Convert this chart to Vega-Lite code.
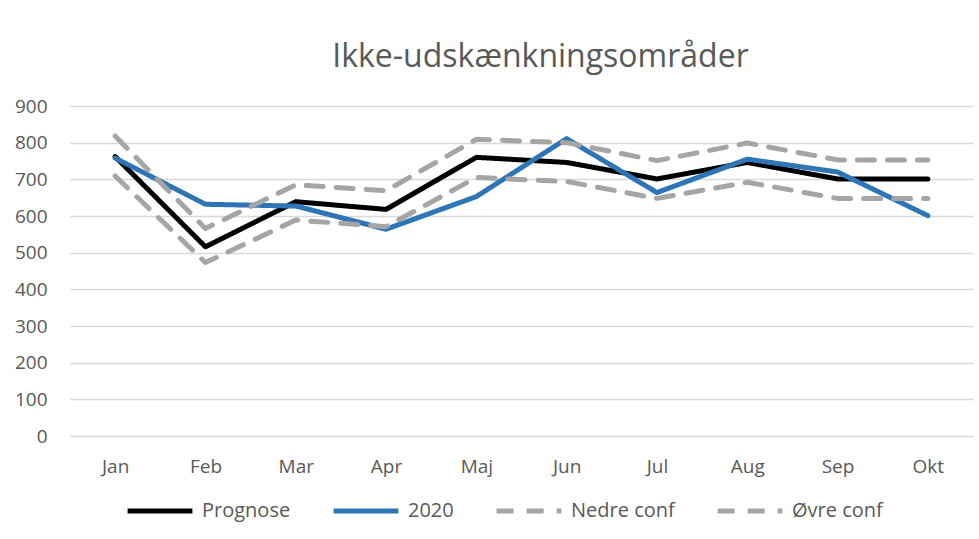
{
  "$schema": "https://vega.github.io/schema/vega-lite/v6.json",
  "autosize": {"type": "none"},
  "width": 903,
  "height": 330,
  "padding": {"left": 70, "top": 106, "right": 6, "bottom": 103},
  "background": "white",
  "title": {
    "text": "Ikke-udskænkningsområder",
    "anchor": "middle",
    "font": "Open Sans",
    "fontSize": 32,
    "fontWeight": "normal",
    "color": "#595959",
    "offset": 23,
    "dx": 19
  },
  "data": {
    "values": [
      {"m": "Jan", "s": "Prognose", "v": 762}, {"m": "Feb", "s": "Prognose", "v": 516}, {"m": "Mar", "s": "Prognose", "v": 639}, {"m": "Apr", "s": "Prognose", "v": 618}, {"m": "Maj", "s": "Prognose", "v": 760}, {"m": "Jun", "s": "Prognose", "v": 746}, {"m": "Jul", "s": "Prognose", "v": 701}, {"m": "Aug", "s": "Prognose", "v": 746}, {"m": "Sep", "s": "Prognose", "v": 701}, {"m": "Okt", "s": "Prognose", "v": 701},
      {"m": "Jan", "s": "2020", "v": 758}, {"m": "Feb", "s": "2020", "v": 632}, {"m": "Mar", "s": "2020", "v": 627}, {"m": "Apr", "s": "2020", "v": 564}, {"m": "Maj", "s": "2020", "v": 653}, {"m": "Jun", "s": "2020", "v": 811}, {"m": "Jul", "s": "2020", "v": 664}, {"m": "Aug", "s": "2020", "v": 755}, {"m": "Sep", "s": "2020", "v": 720}, {"m": "Okt", "s": "2020", "v": 601},
      {"m": "Jan", "s": "Nedre conf", "v": 709}, {"m": "Feb", "s": "Nedre conf", "v": 473}, {"m": "Mar", "s": "Nedre conf", "v": 589}, {"m": "Apr", "s": "Nedre conf", "v": 571}, {"m": "Maj", "s": "Nedre conf", "v": 705}, {"m": "Jun", "s": "Nedre conf", "v": 694}, {"m": "Jul", "s": "Nedre conf", "v": 648}, {"m": "Aug", "s": "Nedre conf", "v": 692}, {"m": "Sep", "s": "Nedre conf", "v": 648}, {"m": "Okt", "s": "Nedre conf", "v": 648},
      {"m": "Jan", "s": "Øvre conf", "v": 818}, {"m": "Feb", "s": "Øvre conf", "v": 566}, {"m": "Mar", "s": "Øvre conf", "v": 685}, {"m": "Apr", "s": "Øvre conf", "v": 669}, {"m": "Maj", "s": "Øvre conf", "v": 809}, {"m": "Jun", "s": "Øvre conf", "v": 800}, {"m": "Jul", "s": "Øvre conf", "v": 751}, {"m": "Aug", "s": "Øvre conf", "v": 799}, {"m": "Sep", "s": "Øvre conf", "v": 753}, {"m": "Okt", "s": "Øvre conf", "v": 753}
    ]
  },
  "mark": {"type": "line", "strokeWidth": 5, "strokeCap": "round", "strokeJoin": "round"},
  "encoding": {
    "x": {
      "field": "m", "type": "nominal",
      "sort": ["Jan", "Feb", "Mar", "Apr", "Maj", "Jun", "Jul", "Aug", "Sep", "Okt"],
      "scale": {"type": "point", "padding": 0.5},
      "axis": {"title": null, "labelAngle": 0, "domain": false, "ticks": false, "grid": false, "labelPadding": 21, "labelFontSize": 19, "labelFont": "Open Sans", "labelColor": "#595959"}
    },
    "y": {
      "field": "v", "type": "quantitative",
      "scale": {"domain": [0, 900], "nice": false},
      "axis": {"title": null, "values": [0, 100, 200, 300, 400, 500, 600, 700, 800, 900], "domain": false, "ticks": false, "grid": true, "gridColor": "#D9D9D9", "gridWidth": 1.5, "labelPadding": 23, "labelFontSize": 19, "labelFont": "Open Sans", "labelColor": "#595959"}
    },
    "color": {
      "field": "s", "type": "nominal",
      "sort": ["Prognose", "2020", "Nedre conf", "Øvre conf"],
      "scale": {"domain": ["Prognose", "2020", "Nedre conf", "Øvre conf"], "range": ["#000000", "#2E75B6", "#A5A5A5", "#A5A5A5"]},
      "legend": {"title": null, "orient": "none", "legendX": 55, "legendY": 370, "direction": "horizontal", "columns": 4, "symbolType": "stroke", "symbolSize": 4200, "symbolStrokeWidth": 5, "labelFontSize": 20, "labelFont": "Open Sans", "labelColor": "#595959", "columnPadding": 32, "labelOffset": 7}
    },
    "strokeDash": {
      "field": "s", "type": "nominal",
      "scale": {"domain": ["Prognose", "2020", "Nedre conf", "Øvre conf"], "range": [[1, 0], [1, 0], [17, 13], [17, 13]]},
      "legend": null
    }
  },
  "config": {"view": {"stroke": null}}
}
